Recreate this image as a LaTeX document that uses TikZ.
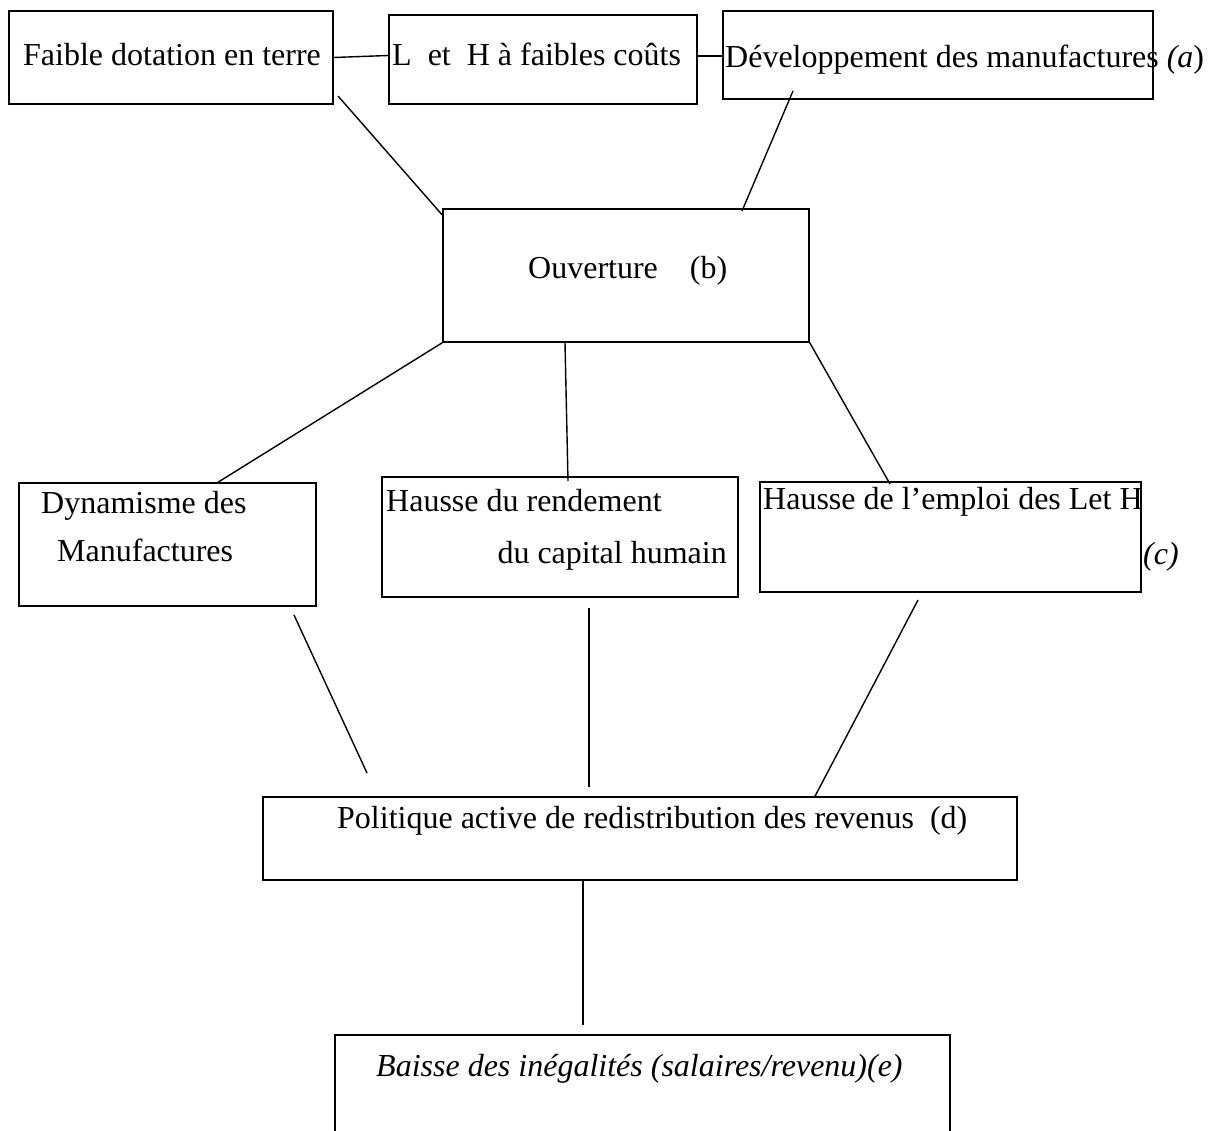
\documentclass[tikz,border=0pt]{standalone}
\usepackage{fontspec}
\setmainfont{Liberation Serif}
\usetikzlibrary{calc}
\begin{document}
\begin{tikzpicture}[x=1pt,y=-1pt,
  box/.style={draw, line width=1.5pt, inner sep=0pt, rectangle},
  lbl/.style={anchor=base west, inner sep=0pt, font=\fontsize{32}{38}\selectfont},
  lblr/.style={anchor=base east, inner sep=0pt, font=\fontsize{32}{38}\selectfont},
  conn/.style={line width=1.4pt}]
\useasboundingbox (0,0) rectangle (1213,1131);
% boxes
\node[box, minimum width=324pt, minimum height=93pt] (A) at (171,57.5) {};
\node[box, minimum width=308pt, minimum height=89pt] (B) at (543,59.5) {};
\node[box, minimum width=430pt, minimum height=88pt] (C) at (938,55) {};
\node[box, minimum width=366pt, minimum height=133pt] (D) at (626,275.5) {};
\node[box, minimum width=297pt, minimum height=123pt] (E) at (167.5,544.5) {};
\node[box, minimum width=356pt, minimum height=120pt] (F) at (560,537) {};
\node[box, minimum width=381pt, minimum height=110pt] (G) at (950.5,537) {};
\node[box, minimum width=754pt, minimum height=83pt] (H) at (640,838.5) {};
\node[inner sep=0pt, minimum width=615pt, minimum height=192pt] (I) at (642.5,1131) {};
\draw[line width=1.5pt] (I.west) -- (I.north west) -- (I.north east) -- (I.east);
% texts
\node[lbl] (tA) at (23,66) {Faible dotation en terre};
\node[lbl] (tB) at (392,66) {L\ \ et\ \ H à faibles coûts};
\node[lbl] (tC) at (725,68) {Développement des manufactures \textit{(a})};
\node[lbl] (tD) at (528,279) {Ouverture\ \ \ \ (b)};
\node[lbl] (tE1) at (41,513) {Dynamisme des};
\node[lbl] (tE2) at (57,561) {Manufactures};
\node[lbl] (tF1) at (386,511) {Hausse du rendement};
\node[lblr] (tF2) at (727,563) {du capital humain};
\node[lbl] (tG) at (763,509) {Hausse de l’emploi des Let H};
\node[lbl] (tc) at (1143,564) {\textit{(c)}};
\node[lbl] (tH) at (337,828) {Politique active de redistribution des revenus\ \ (d)};
\node[lbl] (tI) at (376,1076) {\textit{Baisse des inégalités (salaires/revenu)(e)}};
% free ends
\coordinate (a1) at (338,96);
\coordinate (c1) at (793,91);
\coordinate (d1) at (742,211);
\coordinate (f1) at (568,481);
\coordinate (g1) at (890,484);
\coordinate (e2) at (294,615);
\coordinate (h1) at (367,773);
\coordinate (f2) at (589,608);
\coordinate (h2) at (589,787);
\coordinate (g2) at (918,600);
\coordinate (i1) at (583,1025);
% connectors
\draw[conn] (A.east |- 0,57.5) -- (B.west |- 0,55.5);
\draw[conn] (B.east |- 0,56) -- (C.west |- 0,56);
\draw[conn] (a1) -- (D.west |- 0,215);
\draw[conn] (c1) -- (d1);
\draw[conn] (D.south west) -- (E.north -| 218,0);
\draw[conn] (D.south -| 565,0) -- (f1);
\draw[conn] (D.south east) -- (g1);
\draw[conn] (e2) -- (h1);
\draw[conn] (f2) -- (h2);
\draw[conn] (g2) -- (H.north -| 815,0);
\draw[conn] (H.south -| 583,0) -- (i1);
\end{tikzpicture}
\end{document}
